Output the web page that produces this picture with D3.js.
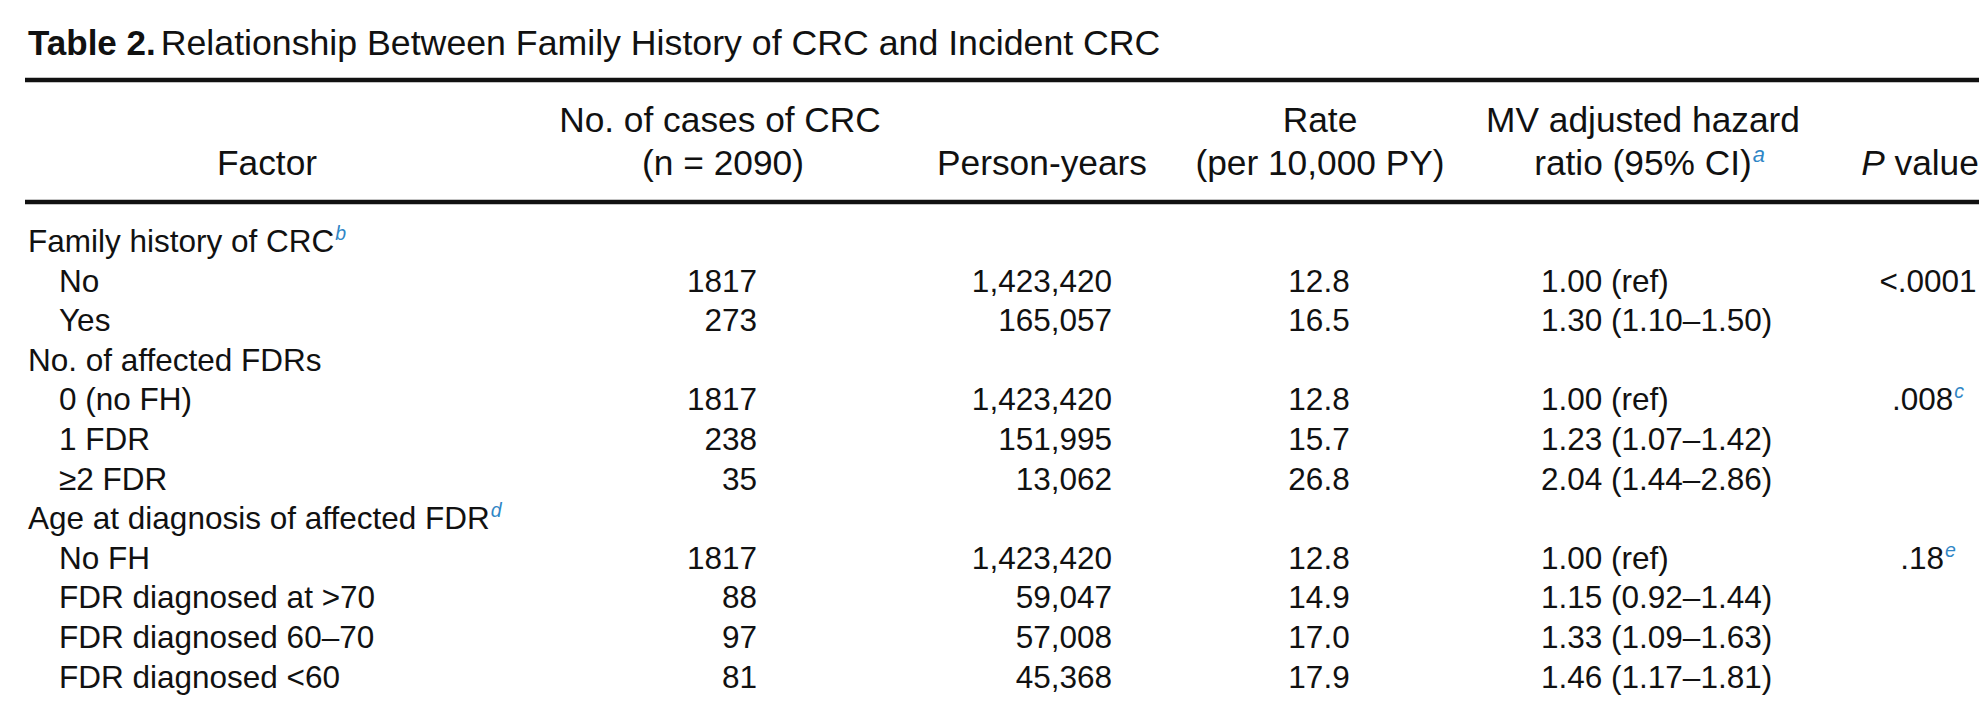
<!DOCTYPE html>
<html>
<head>
<meta charset="utf-8">
<script src="https://cdn.jsdelivr.net/npm/d3@7"></script>
<style>
  html, body { margin: 0; padding: 0; background: #fff; }
  svg { display: block; }
  text { font-family: "Liberation Sans", Arial, Helvetica, sans-serif; fill: #111; }
</style>
</head>
<body>
<script>
// ---------- data ----------
const titleBold = "Table 2.";
const titleRest = "Relationship Between Family History of CRC and Incident CRC";

const factors = ["Family history of CRC", "No", "Yes", "No. of affected FDRs", "0 (no FH)", "1 FDR", "\u22652 FDR",
  "Age at diagnosis of affected FDR", "No FH", "FDR diagnosed at >70", "FDR diagnosed 60\u201370", "FDR diagnosed <60"];
const isGroup = [true, false, false, true, false, false, false, true, false, false, false, false];
const factorNotes = ["b", "", "", "", "", "", "", "d", "", "", "", ""];
const cases = [null, 1817, 273, null, 1817, 238, 35, null, 1817, 88, 97, 81];
const personYears = [null, 1423420, 165057, null, 1423420, 151995, 13062, null, 1423420, 59047, 57008, 45368];
const rates = [null, 12.8, 16.5, null, 12.8, 15.7, 26.8, null, 12.8, 14.9, 17.0, 17.9];
const hazardRatios = ["", "1.00 (ref)", "1.30 (1.10\u20131.50)", "", "1.00 (ref)", "1.23 (1.07\u20131.42)", "2.04 (1.44\u20132.86)",
  "", "1.00 (ref)", "1.15 (0.92\u20131.44)", "1.33 (1.09\u20131.63)", "1.46 (1.17\u20131.81)"];
const pValues = ["", "<.0001", "", "", ".008", "", "", "", ".18", "", "", ""];
const pNotes = ["", "", "", "", "c", "", "", "", "e", "", "", ""];

// header labels
const headFactor = "Factor";
const headCases = ["No. of cases of CRC", "(n = 2090)"];
const headPY = "Person-years";
const headRate = ["Rate", "(per 10,000 PY)"];
const headHR = ["MV adjusted hazard", "ratio (95% CI)"];
const headHRNote = "a";
const headP = ["P", " value"];

// ---------- layout ----------
const W = 1988, H = 722;
const noteColor = "#2f86c6";
const bodySize = 31.5, headSize = 35.3, titleSize = 35, titleRestSize = 35.7;

const svg = d3.select("body").append("svg").attr("width", W).attr("height", H);

// row positions through a point scale
const y = d3.scalePoint().domain(d3.range(factors.length)).range([252, 687.6]);

const fmtPY = d3.format(",");
const fmtRate = d3.format(".1f");

// title
const title = svg.append("text").attr("x", 28).attr("y", 55).style("font-size", titleSize + "px");
title.append("tspan").style("font-weight", "bold").text(titleBold);
title.append("tspan").attr("dx", 5).style("font-size", titleRestSize + "px").text(titleRest);

// rules
const ruleX0 = 25, ruleX1 = 1979;
svg.append("line").attr("x1", ruleX0).attr("x2", ruleX1).attr("y1", 80).attr("y2", 80)
  .attr("stroke", "#111").attr("stroke-width", 4.5);
svg.append("line").attr("x1", ruleX0).attr("x2", ruleX1).attr("y1", 202).attr("y2", 202)
  .attr("stroke", "#111").attr("stroke-width", 4.5);

// helper: text with superscript note appended inside the same text element
function noteText(g, x, yy, anchor, size, main, note, opts = {}) {
  const t = g.append("text").attr("x", x).attr("y", yy).attr("text-anchor", anchor).style("font-size", size + "px");
  if (opts.italicFirst) {
    t.append("tspan").style("font-style", "italic").text(opts.italicFirst);
  }
  t.append("tspan").text(main);
  if (note) {
    t.append("tspan").attr("dy", -size * 0.38).attr("dx", 1)
      .style("font-size", (size * 0.62) + "px").style("font-style", "italic")
      .style("fill", noteColor).text(note);
  }
  return t;
}
// helper: centered main text, superscript hanging outside the centering
function centeredWithNote(g, x, yy, size, main, note) {
  const t = g.append("text").attr("x", x).attr("y", yy).attr("text-anchor", "middle")
    .style("font-size", size + "px").text(main);
  const w = t.node().getComputedTextLength();
  g.append("text").attr("x", x + w / 2 + 1).attr("y", yy - size * 0.38)
    .style("font-size", (size * 0.62) + "px").style("font-style", "italic")
    .style("fill", noteColor).text(note);
}

// header
const head = svg.append("g");
const hl1 = 132, hl2 = 175;
noteText(head, 267, hl2, "middle", headSize, headFactor, "");
noteText(head, 720, hl1, "middle", headSize, headCases[0], "");
noteText(head, 723, hl2, "middle", headSize, headCases[1], "");
noteText(head, 1042, hl2, "middle", headSize, headPY, "");
noteText(head, 1320, hl1, "middle", headSize, headRate[0], "");
noteText(head, 1320, hl2, "middle", headSize, headRate[1], "");
noteText(head, 1643, hl1, "middle", headSize, headHR[0], "");
centeredWithNote(head, 1643, hl2, headSize, headHR[1], headHRNote);
noteText(head, 1920, hl2, "middle", headSize, headP[1], "", { italicFirst: headP[0] });

// body
const body = svg.append("g");
const rows = d3.range(factors.length);

rows.forEach(i => {
  const yy = y(i);
  noteText(body, isGroup[i] ? 28 : 59, yy, "start", bodySize, factors[i], factorNotes[i]);
  if (cases[i] != null) noteText(body, 757, yy, "end", bodySize, String(cases[i]), "");
  if (personYears[i] != null) noteText(body, 1112, yy, "end", bodySize, fmtPY(personYears[i]), "");
  if (rates[i] != null) noteText(body, 1319, yy, "middle", bodySize, fmtRate(rates[i]), "");
  if (hazardRatios[i]) noteText(body, 1541, yy, "start", bodySize, hazardRatios[i], "");
  if (pValues[i]) noteText(body, 1928, yy, "middle", bodySize, pValues[i], pNotes[i]);
});
</script>
</body>
</html>
